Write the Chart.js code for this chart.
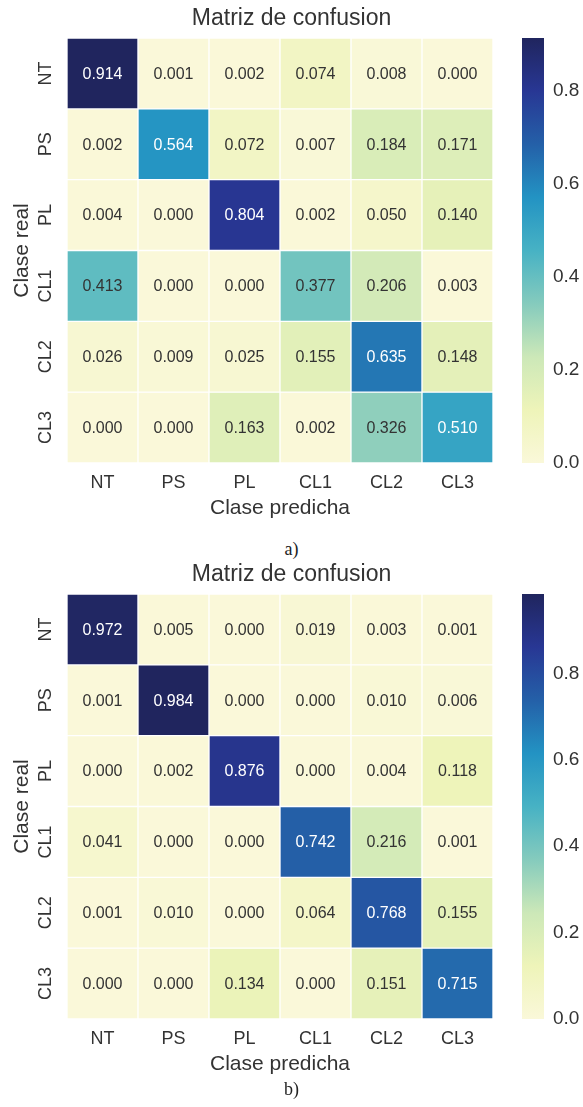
<!DOCTYPE html>
<html>
<head>
<meta charset="utf-8">
<script src="https://cdn.jsdelivr.net/npm/chart.js@4/dist/chart.umd.min.js"></script>
<style>
  body { margin: 0; background: #fff; }
  #wrap { position: relative; width: 583px; height: 1107px; }
  canvas { position: absolute; left: 0; }
  .cap { position: absolute; left: 0; width: 583px; text-align: center;
         font-family: "Liberation Serif", "Times New Roman", serif; font-size: 18px; color: #222; }
</style>
</head>
<body>
<div id="wrap">
  <canvas id="chartA" width="583" height="530" style="top:0"></canvas>
  <div class="cap" style="top:539px">a)</div>
  <canvas id="chartB" width="583" height="530" style="top:556px"></canvas>
  <div class="cap" style="top:1079px">b)</div>
</div>
<script>
// clases (filas = clase real, columnas = clase predicha)
const classes = ['NT', 'PS', 'PL', 'CL1', 'CL2', 'CL3'];

const matrixA = [
    [0.914, 0.001, 0.002, 0.074, 0.008, 0.000],
    [0.002, 0.564, 0.072, 0.007, 0.184, 0.171],
    [0.004, 0.000, 0.804, 0.002, 0.050, 0.140],
    [0.413, 0.000, 0.000, 0.377, 0.206, 0.003],
    [0.026, 0.009, 0.025, 0.155, 0.635, 0.148],
    [0.000, 0.000, 0.163, 0.002, 0.326, 0.510]
];

const matrixB = [
    [0.972, 0.005, 0.000, 0.019, 0.003, 0.001],
    [0.001, 0.984, 0.000, 0.000, 0.010, 0.006],
    [0.000, 0.002, 0.876, 0.000, 0.004, 0.118],
    [0.041, 0.000, 0.000, 0.742, 0.216, 0.001],
    [0.001, 0.010, 0.000, 0.064, 0.768, 0.155],
    [0.000, 0.000, 0.134, 0.000, 0.151, 0.715]
];

const colorbarTicks = [0.0, 0.2, 0.4, 0.6, 0.8];

// paleta tipo YlGnBu, algo apagada como en la figura
const ylgnbu = ['#faf8d9', '#eef4b9', '#cce8b8', '#85cbbd', '#47b2c4', '#2393c3', '#2460a8', '#283794', '#20255e'];

function hexToRgb(h) {
    return [parseInt(h.slice(1, 3), 16), parseInt(h.slice(3, 5), 16), parseInt(h.slice(5, 7), 16)];
}

function cmap(t) {
    t = Math.max(0, Math.min(1, t));
    const pos = t * (ylgnbu.length - 1);
    const i = Math.min(Math.floor(pos), ylgnbu.length - 2);
    const f = pos - i;
    const a = hexToRgb(ylgnbu[i]), b = hexToRgb(ylgnbu[i + 1]);
    const c = a.map((v, k) => Math.round(v + (b[k] - v) * f));
    return 'rgb(' + c.join(',') + ')';
}

const FONT = '"Liberation Sans", Arial, sans-serif';
const TEXT = '#333333';

// valores de celda y etiquetas del eje y
const cellLabels = {
    id: 'cellLabels',
    afterDatasetsDraw(chart) {
        const ctx = chart.ctx;
        const m = chart.options.plugins.cellLabels.matrix;
        const vmax = chart.options.plugins.cellLabels.vmax;
        ctx.save();
        ctx.font = '16px ' + FONT;
        ctx.textAlign = 'center';
        ctx.textBaseline = 'middle';
        chart.data.datasets.forEach((ds, i) => {
            const meta = chart.getDatasetMeta(i);
            meta.data.forEach((bar, j) => {
                const v = m[i][j];
                ctx.fillStyle = v > vmax / 2 ? '#ffffff' : TEXT;
                ctx.fillText(v.toFixed(3), bar.x, (bar.y + bar.base) / 2 + 1);
            });
        });
        // etiquetas rotadas de clase real
        const ys = chart.scales.y;
        ctx.font = '18px ' + FONT;
        ctx.fillStyle = TEXT;
        classes.forEach((c, i) => {
            ctx.save();
            ctx.translate(46, ys.getPixelForValue(i + 0.5));
            ctx.rotate(-Math.PI / 2);
            ctx.fillText(c, 0, 0);
            ctx.restore();
        });
        ctx.restore();
    }
};

// barra de color
const colorBar = {
    id: 'colorBar',
    afterDraw(chart) {
        const ctx = chart.ctx;
        const cb = chart.scales.cb;
        const top = cb.getPixelForValue(cb.max);
        const bottom = cb.getPixelForValue(0);
        const x0 = cb.left + 29, w = 22;
        const g = ctx.createLinearGradient(0, bottom, 0, top);
        ylgnbu.forEach((c, k) => g.addColorStop(k / (ylgnbu.length - 1), c));
        ctx.save();
        ctx.fillStyle = g;
        ctx.fillRect(x0, top, w, bottom - top);
        ctx.restore();
    }
};

function createMatrixChart(canvasId, matrix) {
    const vmax = Math.max(...matrix.map(r => Math.max(...r)));
    const datasets = matrix.map((row, i) => ({
        label: classes[i],
        data: row.map(() => [i, i + 1]),
        backgroundColor: row.map(v => cmap(v / vmax)),
        borderColor: 'rgba(255,255,255,0.6)',
        borderWidth: 1,
        borderSkipped: false,
        barPercentage: 1,
        categoryPercentage: 1,
        grouped: false
    }));

    new Chart(document.getElementById(canvasId), {
        type: 'bar',
        data: { labels: classes, datasets: datasets },
        options: {
            responsive: false,
            animation: false,
            layout: { padding: 0 },
            plugins: {
                legend: { display: false },
                tooltip: { enabled: false },
                title: {
                    display: true,
                    text: 'Matriz de confusion',
                    color: TEXT,
                    font: { family: FONT, size: 23, weight: 'normal' },
                    padding: { top: 5, bottom: 5.4 }
                },
                cellLabels: { matrix: matrix, vmax: vmax }
            },
            scales: {
                x: {
                    type: 'category',
                    grid: { display: false, drawTicks: false },
                    border: { display: false },
                    ticks: { color: TEXT, font: { family: FONT, size: 18 }, padding: 9 },
                    title: {
                        display: true, text: 'Clase predicha', color: TEXT,
                        font: { family: FONT, size: 21 }, padding: { top: 0, bottom: 9.4 }
                    },
                    afterFit: s => { s.height = 67; }
                },
                y: {
                    type: 'linear',
                    min: 0, max: 6, reverse: true,
                    grid: { display: false, drawTicks: false },
                    border: { display: false },
                    ticks: { display: false },
                    title: {
                        display: true, text: 'Clase real', color: TEXT,
                        font: { family: FONT, size: 21 }, padding: { top: 9.4, bottom: 0 }
                    },
                    afterFit: s => { s.width = 67; s.paddingTop = 0; s.paddingBottom = 0; }
                },
                cb: {
                    type: 'linear',
                    position: 'right',
                    min: 0, max: vmax,
                    afterBuildTicks: s => { s.ticks = colorbarTicks.map(v => ({ value: v })); },
                    grid: { display: false, drawTicks: false },
                    border: { display: false },
                    ticks: {
                        color: TEXT, font: { family: FONT, size: 19 }, padding: 60,
                        callback: v => v.toFixed(1)
                    },
                    afterFit: s => { s.width = 90; s.paddingTop = 0; s.paddingBottom = 0; }
                }
            }
        },
        plugins: [cellLabels, colorBar]
    });
}

createMatrixChart('chartA', matrixA);
createMatrixChart('chartB', matrixB);
</script>
</body>
</html>
